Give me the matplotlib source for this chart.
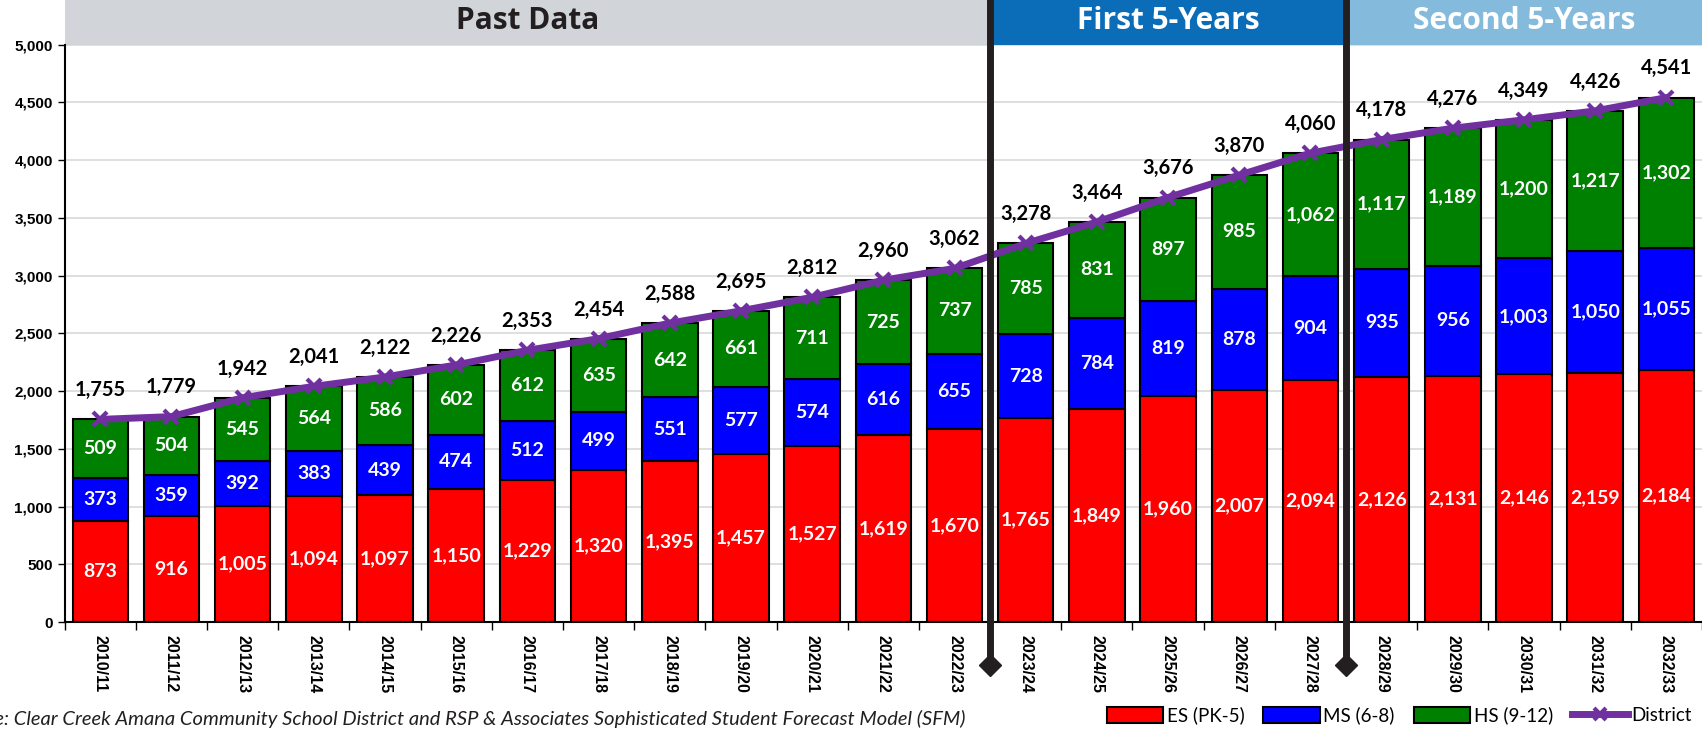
import numpy as np
import matplotlib
matplotlib.use("Agg")
import matplotlib.pyplot as plt
from matplotlib.patches import Rectangle, Patch
from matplotlib.lines import Line2D
import matplotlib.transforms as mtransforms

years = ["2010/11", "2011/12", "2012/13", "2013/14", "2014/15", "2015/16", "2016/17",
         "2017/18", "2018/19", "2019/20", "2020/21", "2021/22", "2022/23", "2023/24",
         "2024/25", "2025/26", "2026/27", "2027/28", "2028/29", "2029/30", "2030/31",
         "2031/32", "2032/33"]
es = [873, 916, 1005, 1094, 1097, 1150, 1229, 1320, 1395, 1457, 1527, 1619, 1670,
      1765, 1849, 1960, 2007, 2094, 2126, 2131, 2146, 2159, 2184]
ms = [373, 359, 392, 383, 439, 474, 512, 499, 551, 577, 574, 616, 655,
      728, 784, 819, 878, 904, 935, 956, 1003, 1050, 1055]
hs = [509, 504, 545, 564, 586, 602, 612, 635, 642, 661, 711, 725, 737,
      785, 831, 897, 985, 1062, 1117, 1189, 1200, 1217, 1302]
district = [1755, 1779, 1942, 2041, 2122, 2226, 2353, 2454, 2588, 2695, 2812, 2960, 3062,
            3278, 3464, 3676, 3870, 4060, 4178, 4276, 4349, 4426, 4541]

periods = ["Past Data", "First 5-Years", "Second 5-Years"]
period_start = ["2010/11", "2023/24", "2028/29"]
period_colors = ["#d1d5d9", "#0b6cb8", "#84bbdc"]
period_text = ["#231f20", "white", "white"]

LBL = "Lato"
fig = plt.figure(figsize=(17.02, 7.31), dpi=100)
ax = fig.add_axes([0.038, 0.149, 0.962, 0.790])

x = np.arange(len(years))
es_a, ms_a, hs_a = np.array(es), np.array(ms), np.array(hs)
w = 0.78
ax.bar(x, es_a, w, color="#ff0000", edgecolor="black", lw=1.5, zorder=2)
ax.bar(x, ms_a, w, bottom=es_a, color="#0000ff", edgecolor="black", lw=1.5, zorder=2)
ax.bar(x, hs_a, w, bottom=es_a + ms_a, color="#008000", edgecolor="black", lw=1.5, zorder=2)
ax.plot(x, district, color="#7030a0", lw=5, marker="x", ms=10, mew=3, zorder=4)

for i in x:
    ax.text(i, es_a[i] / 2, f"{es[i]:,}", ha="center", va="center", color="white",
            fontsize=14, fontweight="bold", family=LBL, zorder=3)
    ax.text(i, es_a[i] + ms_a[i] / 2, f"{ms[i]:,}", ha="center", va="center", color="white",
            fontsize=14, fontweight="bold", family=LBL, zorder=3)
    ax.text(i, es_a[i] + ms_a[i] + hs_a[i] / 2, f"{hs[i]:,}", ha="center", va="center",
            color="white", fontsize=14, fontweight="bold", family=LBL, zorder=3)
    ax.annotate(f"{district[i]:,}", (i, district[i]), xytext=(0, 21),
                textcoords="offset points", ha="center", va="center", color="black",
                fontsize=14.5, fontweight="bold", family=LBL, zorder=5)

ax.set_xlim(-0.5, len(years) - 0.5)
ax.set_ylim(0, 5000)
ax.set_yticks(np.arange(0, 5001, 500))
ax.set_yticklabels([f"{v:,}" for v in range(0, 5001, 500)], family="Liberation Sans",
                   fontweight="bold", fontsize=11)
ax.set_xticks(x)
ax.set_xticklabels(years, rotation=-90, family="Liberation Sans", fontweight="bold",
                   fontsize=11.5)
ax.set_xticks(np.arange(-0.5, len(years), 1), minor=True)
ax.tick_params(axis="x", which="major", length=0, pad=9)
ax.tick_params(axis="x", which="minor", length=6, width=1)
ax.tick_params(axis="y", length=5, width=1)
ax.grid(axis="y", color="#d9d9d9", lw=1.2, zorder=0)
ax.set_axisbelow(True)
for s in ["top", "right"]:
    ax.spines[s].set_visible(False)
ax.spines["left"].set_linewidth(1.5)
ax.spines["bottom"].set_linewidth(1.5)

# header bands and dividers
trans = mtransforms.blended_transform_factory(ax.transData, ax.transAxes)
starts = [years.index(p) - 0.5 for p in period_start] + [len(years) - 0.5]
for k, name in enumerate(periods):
    ax.add_patch(Rectangle((starts[k], 1.0), starts[k + 1] - starts[k], 0.1,
                           transform=trans, facecolor=period_colors[k], edgecolor="none",
                           clip_on=False, zorder=1))
    ax.text((starts[k] + starts[k + 1]) / 2, 1.04, name, transform=trans, ha="center",
            va="center", fontsize=21.5, fontweight="bold", color=period_text[k],
            family="Open Sans", clip_on=False)
for b in starts[1:3]:
    ax.plot([b, b], [-0.075, 1.1], transform=trans, color="#231f20", lw=5,
            clip_on=False, zorder=6, solid_capstyle="butt")
    ax.plot([b], [-0.075], transform=trans, color="#231f20", marker="D", ms=11,
            clip_on=False, zorder=6)

handles = [Patch(facecolor="#ff0000", edgecolor="black", lw=1.5),
           Patch(facecolor="#0000ff", edgecolor="black", lw=1.5),
           Patch(facecolor="#008000", edgecolor="black", lw=1.5),
           Line2D([], [], color="#7030a0", lw=5, marker="x", ms=9, mew=3)]
fig.legend(handles, ["ES (PK-5)", "MS (6-8)", "HS (9-12)", "District"], ncol=4,
           loc="lower right", bbox_to_anchor=(1.004, -0.014), frameon=False,
           prop={"family": "Lato", "size": 13.5}, handlelength=3.0, handleheight=1.0,
           columnspacing=1.0, handletextpad=0.2)

fig.text(-0.031, 0.004, "Source: Clear Creek Amana Community School District and RSP & Associates "
         "Sophisticated Student Forecast Model (SFM)", fontsize=14.5, style="italic",
         family="Lato", color="#231f20", ha="left", va="bottom")

fig.savefig("out.png", dpi=100)
